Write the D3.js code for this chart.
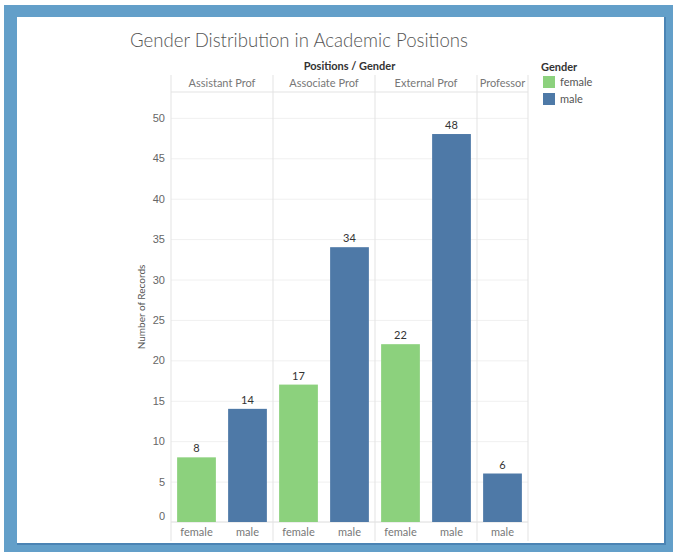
<!DOCTYPE html>
<meta charset="utf-8" />
<style>
  body {
    margin: 0;
    background: #fff;
    font-family: Lato, "Open Sans", sans-serif;
  }
  .grid line {
    stroke: #f0f0f0;
  }
  .grid .domain {
    display: none;
  }
  .y-axis .domain,
  .y-axis line {
    display: none;
  }
  .y-axis text {
    fill: #666;
    font-size: 11px;
  }
</style>
<body>
  <div class="container"></div>
  <script src="https://d3js.org/d3.v7.min.js"></script>
  <script>
    // data
    const positions = ["Assistant Prof", "Associate Prof", "External Prof", "Professor"];
    const genders = ["female", "male"];
    const femaleCounts = [8, 17, 22, null];
    const maleCounts = [14, 34, 48, 6];
    const yTicks = [0, 5, 10, 15, 20, 25, 30, 35, 40, 45, 50];

    const colors = { female: "#8cd17d", male: "#4e79a7" };

    // one slot per (position, gender) that has a value
    let slots = [];
    positions.forEach(function (p, i) {
      [femaleCounts[i], maleCounts[i]].forEach(function (v, j) {
        if (v != null) slots.push({ position: p, gender: genders[j], value: v, key: p + "|" + genders[j] });
      });
    });

    const W = 680, H = 557;
    const plot = { left: 171, right: 528, top: 92, bottom: 522, headerTop: 75, axisBottom: 541 };

    const svg = d3
      .select(".container")
      .append("svg")
      .attr("width", W)
      .attr("height", H);

    // frame
    svg.append("rect").attr("x", 4).attr("y", 5).attr("width", 669).attr("height", 547).attr("fill", "#639fc9");
    svg.append("rect").attr("x", 17).attr("y", 17).attr("width", 649).attr("height", 528).attr("fill", "#4b84b4");
    svg.append("rect").attr("x", 17).attr("y", 17).attr("width", 647).attr("height", 526).attr("fill", "#fff");

    // title
    svg
      .append("text")
      .attr("x", 130)
      .attr("y", 47)
      .attr("fill", "#555")
      .style("font-size", "18.6px")
      .style("font-weight", 300)
      .text("Gender Distribution in Academic Positions");

    const x = d3
      .scaleBand()
      .domain(slots.map((d) => d.key))
      .range([plot.left, plot.right])
      .paddingInner(0.24)
      .paddingOuter(0.12);

    const y = d3.scaleLinear().domain([0, 53.2]).range([plot.bottom, plot.top]);

    // horizontal grid
    svg
      .append("g")
      .attr("class", "grid")
      .attr("transform", "translate(" + plot.left + ",0)")
      .call(d3.axisLeft(y).tickValues(yTicks.slice(1)).tickSize(-(plot.right - plot.left)).tickFormat(""));

    // y axis labels
    const yAxis = svg
      .append("g")
      .attr("class", "y-axis")
      .attr("transform", "translate(" + (plot.left + 2) + ",0)")
      .call(d3.axisLeft(y).tickValues(yTicks).tickSize(0).tickPadding(8));
    yAxis
      .selectAll(".tick")
      .filter((d) => d === 0)
      .select("text")
      .attr("dy", "-0.2em");

    svg
      .append("text")
      .attr("transform", "translate(145," + (plot.top + plot.bottom) / 2 + ") rotate(-90)")
      .attr("text-anchor", "middle")
      .attr("fill", "#555")
      .style("font-size", "10px")
      .text("Number of Records");

    // column bounds per position
    const step = x.step();
    const cols = positions.map(function (p) {
      const keys = slots.filter((d) => d.position === p).map((d) => d.key);
      const first = x(keys[0]), last = x(keys[keys.length - 1]);
      const pad = (step - x.bandwidth()) / 2;
      return { position: p, x0: first - pad, x1: last + x.bandwidth() + pad };
    });

    // header line and baseline
    svg.append("line").attr("x1", plot.left).attr("x2", plot.right).attr("y1", plot.top).attr("y2", plot.top).attr("stroke", "#e3e3e3");
    svg.append("line").attr("x1", plot.left).attr("x2", plot.right).attr("y1", plot.bottom).attr("y2", plot.bottom).attr("stroke", "#dcdcdc");

    // column separators
    const seps = [cols[0].x0].concat(cols.map((c) => c.x1));
    svg
      .selectAll(".sep")
      .data(seps)
      .enter()
      .append("line")
      .attr("x1", (d) => d)
      .attr("x2", (d) => d)
      .attr("y1", plot.headerTop)
      .attr("y2", plot.axisBottom)
      .attr("stroke", "#e3e3e3");

    // header text
    svg
      .append("text")
      .attr("x", (plot.left + plot.right) / 2)
      .attr("y", 70)
      .attr("text-anchor", "middle")
      .attr("fill", "#333")
      .style("font-size", "11px")
      .style("font-weight", "bold")
      .text("Positions / Gender");

    svg
      .selectAll(".colhead")
      .data(cols)
      .enter()
      .append("text")
      .attr("x", (d) => (d.x0 + d.x1) / 2)
      .attr("y", 87)
      .attr("text-anchor", "middle")
      .attr("fill", "#777")
      .style("font-size", "11px")
      .text((d) => d.position);

    // bars
    svg
      .selectAll(".bar")
      .data(slots)
      .enter()
      .append("rect")
      .attr("x", (d) => x(d.key))
      .attr("width", x.bandwidth())
      .attr("y", (d) => y(d.value))
      .attr("height", (d) => y(0) - y(d.value))
      .attr("fill", (d) => colors[d.gender]);

    svg
      .selectAll(".val")
      .data(slots)
      .enter()
      .append("text")
      .attr("x", (d) => x(d.key) + x.bandwidth() / 2)
      .attr("y", (d) => y(d.value) - 5)
      .attr("text-anchor", "middle")
      .attr("fill", "#333")
      .style("font-size", "11px")
      .text((d) => d.value);

    svg
      .selectAll(".xlab")
      .data(slots)
      .enter()
      .append("text")
      .attr("x", (d) => x(d.key) + x.bandwidth() / 2)
      .attr("y", 536)
      .attr("text-anchor", "middle")
      .attr("fill", "#777")
      .style("font-size", "11px")
      .text((d) => d.gender);

    // legend
    const legend = svg.append("g").attr("transform", "translate(541,0)");
    legend
      .append("text")
      .attr("x", 0)
      .attr("y", 71)
      .attr("fill", "#333")
      .style("font-size", "11px")
      .style("font-weight", "bold")
      .text("Gender");
    genders.forEach(function (g, i) {
      legend.append("rect").attr("x", 2).attr("y", 76 + i * 17).attr("width", 12).attr("height", 12).attr("fill", colors[g]);
      legend
        .append("text")
        .attr("x", 19)
        .attr("y", 86 + i * 17)
        .attr("fill", "#555")
        .style("font-size", "11px")
        .text(g);
    });
  </script>
</body>
